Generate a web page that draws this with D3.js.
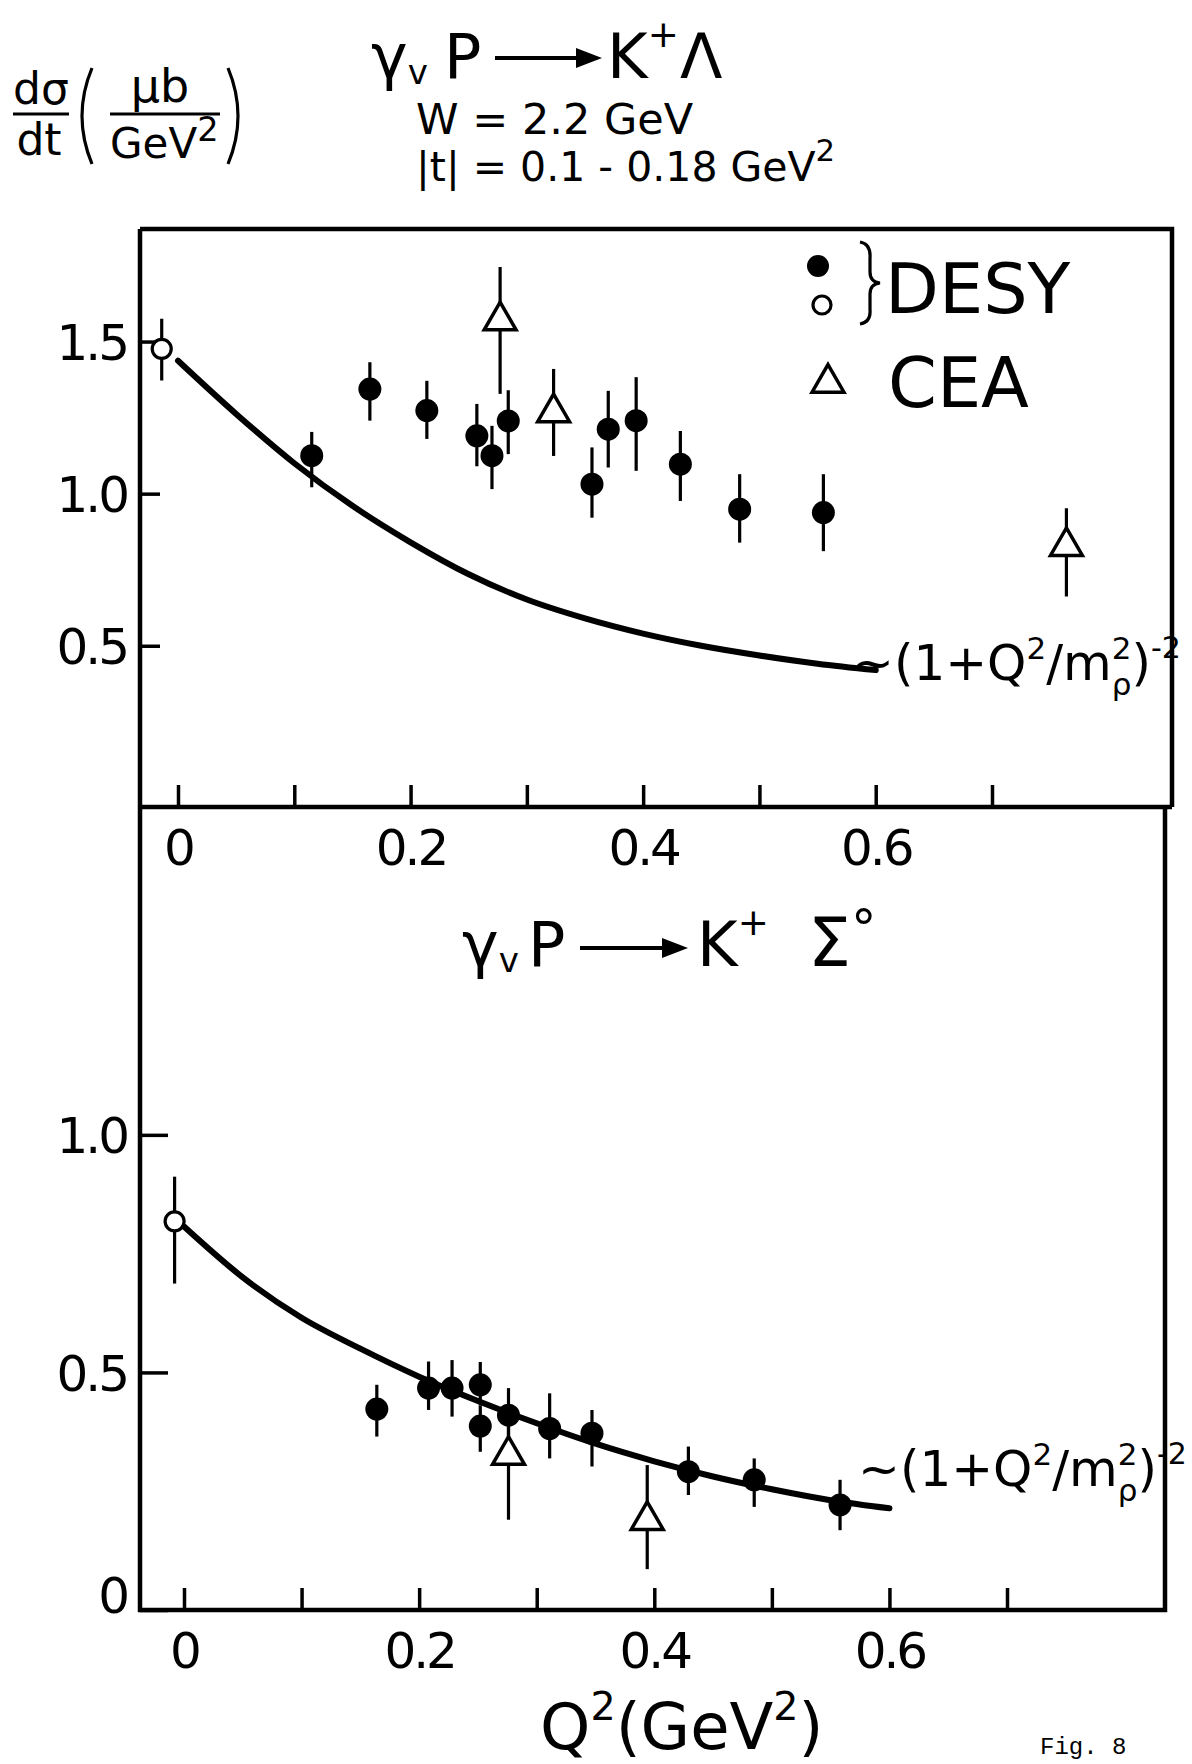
<!DOCTYPE html>
<html>
<head>
<meta charset="utf-8">
<script src="https://cdn.jsdelivr.net/npm/d3@7"></script>
<style>
  body { margin: 0; background: #fff; }
  svg { display: block; }
  text { font-family: 'DejaVu Sans', sans-serif; fill: #000; }
  .mono { font-family: 'Liberation Mono', 'DejaVu Sans Mono', monospace; }
</style>
</head>
<body>
<div id="chart"></div>
<script>
/* Fig. 8: d(sigma)/dt versus Q^2 for gamma_v p -> K+ Lambda and K+ Sigma0 */

// shared x axis
var xTicks = [0, 0.1, 0.2, 0.3, 0.4, 0.5, 0.6, 0.7];
var xTickLabels = ['0', '', '0.2', '', '0.4', '', '0.6', ''];

// upper panel: K+ Lambda
var lambdaTicks = [0.5, 1.0, 1.5];
var lambdaTickLabels = ['0.5', '1.0', '1.5'];
var lambdaDesyQ2 = [0.115, 0.165, 0.214, 0.257, 0.270, 0.284, 0.356, 0.370, 0.394, 0.432, 0.483, 0.555];
var lambdaDesyVal = [1.125, 1.344, 1.273, 1.190, 1.125, 1.239, 1.031, 1.212, 1.240, 1.097, 0.949, 0.938];
var lambdaDesyHi = [1.203, 1.432, 1.371, 1.295, 1.223, 1.340, 1.152, 1.338, 1.383, 1.206, 1.064, 1.064];
var lambdaDesyLo = [1.021, 1.240, 1.180, 1.090, 1.015, 1.130, 0.921, 1.086, 1.075, 0.976, 0.839, 0.811];
var lambdaOpenQ2 = [-0.014];
var lambdaOpenVal = [1.476];
var lambdaOpenHi = [1.575];
var lambdaOpenLo = [1.372];
var lambdaCeaQ2 = [0.277, 0.323, 0.764];
var lambdaCeaVal = [1.569, 1.267, 0.827];
var lambdaCeaHi = [1.745, 1.410, 0.952];
var lambdaCeaLo = [1.328, 1.124, 0.662];
var lambdaFitQ2 = [0, 0.05, 0.1, 0.15, 0.2, 0.25, 0.3, 0.35, 0.4, 0.45, 0.5, 0.55, 0.6];
var lambdaFitVal = [1.437, 1.262, 1.100, 0.960, 0.840, 0.735, 0.652, 0.590, 0.540, 0.500, 0.468, 0.441, 0.420];

// lower panel: K+ Sigma0
var sigmaTicks = [0, 0.5, 1.0];
var sigmaTickLabels = ['0', '0.5', '1.0'];
var sigmaDesyQ2 = [0.164, 0.208, 0.228, 0.252, 0.252, 0.276, 0.311, 0.347, 0.429, 0.485, 0.558];
var sigmaDesyVal = [0.423, 0.467, 0.467, 0.474, 0.387, 0.410, 0.382, 0.372, 0.291, 0.274, 0.221];
var sigmaDesyHi = [0.474, 0.523, 0.526, 0.522, 0.430, 0.467, 0.456, 0.421, 0.344, 0.319, 0.274];
var sigmaDesyLo = [0.365, 0.421, 0.407, 0.430, 0.333, 0.360, 0.319, 0.302, 0.242, 0.217, 0.168];
var sigmaOpenQ2 = [-0.008];
var sigmaOpenVal = [0.818];
var sigmaOpenHi = [0.912];
var sigmaOpenLo = [0.687];
var sigmaCeaQ2 = [0.276, 0.394];
var sigmaCeaVal = [0.326, 0.189];
var sigmaCeaHi = [0.410, 0.305];
var sigmaCeaLo = [0.190, 0.086];
var sigmaFitQ2 = [0, 0.05, 0.1, 0.15, 0.2, 0.25, 0.3, 0.35, 0.4, 0.45, 0.5, 0.55, 0.6];
var sigmaFitVal = [0.807, 0.700, 0.615, 0.550, 0.491, 0.440, 0.393, 0.350, 0.313, 0.281, 0.254, 0.231, 0.214];

var frame = { left: 140, rightUp: 1172, rightLo: 1165, top: 229, mid: 807, bottom: 1610 };

var svg = d3.select('#chart').append('svg')
	.attr('width', 1192)
	.attr('height', 1764);

function rows(q, v, hi, lo) {
	return q.map(function(d, i) {
		return { q: d, v: v[i], hi: hi[i], lo: lo[i] };
	});
}

// text with super/subscripts; o = vertical offset in em of base size
function rich(parent, x, y, size, parts, anchor) {
	var t = parent.append('text')
		.attr('x', x)
		.attr('y', y)
		.attr('font-size', size)
		.attr('text-anchor', anchor || 'start');
	var off = 0, prev = null;
	parts.forEach(function(p) {
		var o = (p.o || 0) * size;
		var ts = t.append('tspan')
			.text(p.t)
			.attr('font-size', size * (p.s || 1))
			.attr('dy', o - off);
		if (p.back && prev) ts.attr('dx', -prev.node().getComputedTextLength());
		off = o;
		prev = ts;
	});
	return t;
}

var triangle = d3.symbol().type(d3.symbolTriangle).size(440);

function drawPanel(cfg) {
	var x = d3.scaleLinear().domain([0, 0.7]).range(cfg.xRange),
		y = d3.scaleLinear().domain(cfg.yDomain).range(cfg.yRange),
		g = svg.append('g');

	// x axis, ticks pointing up into the plot
	var gx = g.append('g')
		.attr('transform', 'translate(0,' + cfg.yRange[0] + ')')
		.call(d3.axisBottom(x)
			.tickValues(xTicks)
			.tickFormat(function(d, i) { return xTickLabels[i]; })
			.tickSizeInner(-22)
			.tickSizeOuter(0)
			.tickPadding(22));
	// y axis, ticks pointing right
	var gy = g.append('g')
		.attr('transform', 'translate(' + frame.left + ',0)')
		.call(d3.axisLeft(y)
			.tickValues(cfg.yTicks)
			.tickFormat(function(d, i) { return cfg.yTickLabels[i]; })
			.tickSizeInner(-cfg.yTickLen)
			.tickSizeOuter(0)
			.tickPadding(13));
	[gx, gy].forEach(function(a) {
		a.select('.domain').remove();
		a.selectAll('.tick line').attr('stroke', '#000').attr('stroke-width', 3.5);
		a.selectAll('.tick text')
			.attr('font-family', "'DejaVu Sans', sans-serif")
			.attr('font-size', 50)
			.attr('letter-spacing', -3)
			.attr('fill', '#000');
	});
	gy.selectAll('.tick text').attr('dy', function(d) { return d === 0 ? '0.05em' : '0.36em'; });

	// fit curve
	g.append('path')
		.datum(d3.zip(cfg.fitQ2, cfg.fitVal))
		.attr('d', d3.line()
			.x(function(d) { return x(d[0]); })
			.y(function(d) { return y(d[1]); })
			.curve(d3.curveMonotoneX))
		.attr('fill', 'none')
		.attr('stroke', '#000')
		.attr('stroke-width', cfg.fitWidth)
		.attr('stroke-linecap', 'round');

	var all = cfg.desy.concat(cfg.open, cfg.cea);
	// error bars
	g.append('g').selectAll('line').data(all).enter().append('line')
		.attr('x1', function(d) { return x(d.q); })
		.attr('x2', function(d) { return x(d.q); })
		.attr('y1', function(d) { return y(d.hi); })
		.attr('y2', function(d) { return y(d.lo); })
		.attr('stroke', '#000')
		.attr('stroke-width', 3.2);

	// DESY filled
	g.append('g').selectAll('circle').data(cfg.desy).enter().append('circle')
		.attr('cx', function(d) { return x(d.q); })
		.attr('cy', function(d) { return y(d.v); })
		.attr('r', 11.5)
		.attr('fill', '#000');
	// DESY open
	g.append('g').selectAll('circle').data(cfg.open).enter().append('circle')
		.attr('cx', function(d) { return x(d.q); })
		.attr('cy', function(d) { return y(d.v); })
		.attr('r', 9.5)
		.attr('fill', '#fff')
		.attr('stroke', '#000')
		.attr('stroke-width', 3.2);
	// CEA triangles
	g.append('g').selectAll('path').data(cfg.cea).enter().append('path')
		.attr('d', triangle)
		.attr('transform', function(d) { return 'translate(' + x(d.q) + ',' + y(d.v) + ')'; })
		.attr('fill', '#fff')
		.attr('stroke', '#000')
		.attr('stroke-width', 3.5);

	// fit label
	rich(g, cfg.labelX, cfg.labelY, 50, [
		{ t: '~(1+Q' },
		{ t: '2', s: 0.62, o: -0.42 },
		{ t: '/m' },
		{ t: '2', s: 0.62, o: -0.42 },
		{ t: 'ρ', s: 0.62, o: 0.3, back: true },
		{ t: ')' },
		{ t: '-2', s: 0.6, o: -0.45 }
	]);
}

// frame
svg.append('path')
	.attr('d', 'M' + frame.left + ',' + frame.top + 'H' + frame.rightUp + 'V' + frame.mid +
		'M' + frame.rightLo + ',' + frame.mid + 'V' + frame.bottom + 'H' + frame.left + 'V' + frame.top +
		'M' + frame.left + ',' + frame.mid + 'H' + frame.rightUp)
	.attr('fill', 'none')
	.attr('stroke', '#000')
	.attr('stroke-width', 4.5);

drawPanel({
	xRange: [178, 992],
	yDomain: [-0.03, 1.87],
	yRange: [frame.mid, frame.top],
	yTicks: lambdaTicks,
	yTickLabels: lambdaTickLabels,
	yTickLen: 20,
	fitQ2: lambdaFitQ2,
	fitVal: lambdaFitVal,
	fitWidth: 6,
	desy: rows(lambdaDesyQ2, lambdaDesyVal, lambdaDesyHi, lambdaDesyLo),
	open: rows(lambdaOpenQ2, lambdaOpenVal, lambdaOpenHi, lambdaOpenLo),
	cea: rows(lambdaCeaQ2, lambdaCeaVal, lambdaCeaHi, lambdaCeaLo),
	labelX: 852,
	labelY: 680
});

drawPanel({
	xRange: [184, 1007],
	yDomain: [0, 1.69],
	yRange: [frame.bottom, frame.mid],
	yTicks: sigmaTicks,
	yTickLabels: sigmaTickLabels,
	yTickLen: 28,
	fitQ2: sigmaFitQ2,
	fitVal: sigmaFitVal,
	fitWidth: 6,
	desy: rows(sigmaDesyQ2, sigmaDesyVal, sigmaDesyHi, sigmaDesyLo),
	open: rows(sigmaOpenQ2, sigmaOpenVal, sigmaOpenHi, sigmaOpenLo),
	cea: rows(sigmaCeaQ2, sigmaCeaVal, sigmaCeaHi, sigmaCeaLo),
	labelX: 858,
	labelY: 1486
});

// legend
var lg = svg.append('g');
lg.append('circle').attr('cx', 818).attr('cy', 266).attr('r', 11).attr('fill', '#000');
lg.append('circle').attr('cx', 822).attr('cy', 305).attr('r', 9)
	.attr('fill', '#fff').attr('stroke', '#000').attr('stroke-width', 3.2);
lg.append('path')
	.attr('d', 'M860,242 Q871,244 870,258 L870,272 Q870,282 880,283 Q870,284 870,294 L870,310 Q871,322 860,324')
	.attr('fill', 'none').attr('stroke', '#000').attr('stroke-width', 3.2);
lg.append('text').attr('x', 885).attr('y', 313).attr('font-size', 70).text('DESY');
lg.append('path').attr('d', triangle).attr('transform', 'translate(828,383)')
	.attr('fill', '#fff').attr('stroke', '#000').attr('stroke-width', 3.5);
lg.append('text').attr('x', 888).attr('y', 407).attr('font-size', 70).text('CEA');

// reaction titles
function arrow(x1, x2, yy) {
	svg.append('line').attr('x1', x1).attr('x2', x2 - 20).attr('y1', yy).attr('y2', yy)
		.attr('stroke', '#000').attr('stroke-width', 4);
	svg.append('path')
		.attr('d', 'M' + (x2 - 26) + ',' + (yy - 10) + 'L' + x2 + ',' + yy + 'L' + (x2 - 26) + ',' + (yy + 10) + 'Z')
		.attr('fill', '#000');
}
rich(svg, 371, 78, 62, [{ t: 'γ' }, { t: 'v', s: 0.55, o: 0.1 }]);
rich(svg, 444, 78, 62, [{ t: 'P' }]);
arrow(495, 602, 58);
rich(svg, 607, 78, 62, [{ t: 'K' }, { t: '+', s: 0.6, o: -0.5 }]);
rich(svg, 680, 78, 62, [{ t: 'Λ' }]);
rich(svg, 416, 134, 43, [{ t: 'W =  2.2 GeV' }]);
rich(svg, 416, 181, 41, [{ t: '|t| = 0.1 - 0.18 GeV' }, { t: '2', s: 0.75, o: -0.5 }]);

rich(svg, 462, 966, 62, [{ t: 'γ' }, { t: 'v', s: 0.55, o: 0.1 }]);
rich(svg, 528, 966, 62, [{ t: 'P' }]);
arrow(580, 688, 948);
rich(svg, 697, 966, 62, [{ t: 'K' }, { t: '+', s: 0.6, o: -0.5 }]);
rich(svg, 808, 966, 68, [{ t: 'Σ' }, { t: '°', s: 0.75, o: -0.3 }]);

// y axis label  d(sigma)/dt (mu b / GeV^2)
var yl = svg.append('g');
rich(yl, 41, 104, 44, [{ t: 'dσ' }], 'middle');
rich(yl, 39, 155, 44, [{ t: 'dt' }], 'middle');
yl.append('line').attr('x1', 13).attr('x2', 69).attr('y1', 114).attr('y2', 114)
	.attr('stroke', '#000').attr('stroke-width', 3);
rich(yl, 160, 102, 46, [{ t: 'μb' }], 'middle');
yl.append('line').attr('x1', 110).attr('x2', 220).attr('y1', 114).attr('y2', 114)
	.attr('stroke', '#000').attr('stroke-width', 3);
rich(yl, 110, 158, 42, [{ t: 'GeV' }, { t: '2', s: 0.8, o: -0.4 }]);
yl.append('path').attr('d', 'M92,68 Q72,116 92,164')
	.attr('fill', 'none').attr('stroke', '#000').attr('stroke-width', 3.2);
yl.append('path').attr('d', 'M228,68 Q248,116 228,164')
	.attr('fill', 'none').attr('stroke', '#000').attr('stroke-width', 3.2);

// x axis title
rich(svg, 540, 1749, 64, [{ t: 'Q' }, { t: '2', s: 0.62, o: -0.45 }, { t: '(GeV' }, { t: '2', s: 0.62, o: -0.45 }, { t: ')' }]);

svg.append('text').attr('class', 'mono').attr('x', 1040).attr('y', 1754).attr('font-size', 24).text('Fig. 8');
</script>
</body>
</html>
